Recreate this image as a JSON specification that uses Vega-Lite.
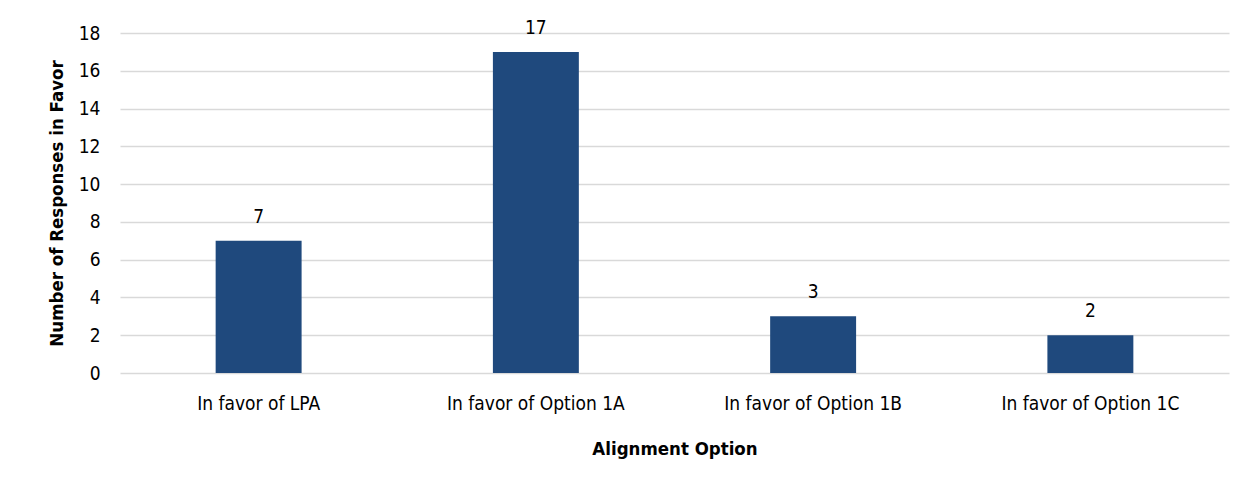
{
  "$schema": "https://vega.github.io/schema/vega-lite/v6.json",
  "width": 1109,
  "height": 340,
  "autosize": {"type": "none"},
  "padding": {"left": 120, "top": 33, "right": 23, "bottom": 107},
  "background": "white",
  "data": {"values": [
    {"option": "In favor of LPA", "count": 7},
    {"option": "In favor of Option 1A", "count": 17},
    {"option": "In favor of Option 1B", "count": 3},
    {"option": "In favor of Option 1C", "count": 2}
  ]},
  "config": {
    "view": {"stroke": null},
    "font": "DejaVu Sans Condensed, Liberation Sans, sans-serif",
    "axis": {"labelFont": "DejaVu Sans Condensed, Liberation Sans, sans-serif", "titleFont": "DejaVu Sans Condensed, Liberation Sans, sans-serif", "labelColor": "#000000", "titleColor": "#000000"}
  },
  "encoding": {
    "x": {
      "field": "option", "type": "nominal", "sort": null,
      "scale": {"paddingInner": 0.69, "paddingOuter": 0.345},
      "axis": {"title": "Alignment Option", "labelAngle": 0, "labelFontSize": 19, "titleFontSize": 18.5, "titleFontWeight": "bold", "ticks": false, "domain": false, "labelPadding": 21, "titlePadding": 26}
    },
    "y": {
      "field": "count", "type": "quantitative",
      "scale": {"domain": [0, 18]},
      "axis": {"title": "Number of Responses in Favor", "values": [0,2,4,6,8,10,12,14,16,18], "labelFontSize": 19, "titleFontSize": 18.5, "titleFontWeight": "bold", "ticks": false, "domain": false, "labelPadding": 20, "titlePadding": 12, "gridColor": "#d9d9d9", "gridWidth": 1.5}
    }
  },
  "layer": [
    {"mark": {"type": "bar", "color": "#1f497d"}},
    {"mark": {"type": "text", "baseline": "bottom", "dy": -14, "fontSize": 19, "color": "#000000"}, "encoding": {"text": {"field": "count", "type": "quantitative"}}}
  ]
}
